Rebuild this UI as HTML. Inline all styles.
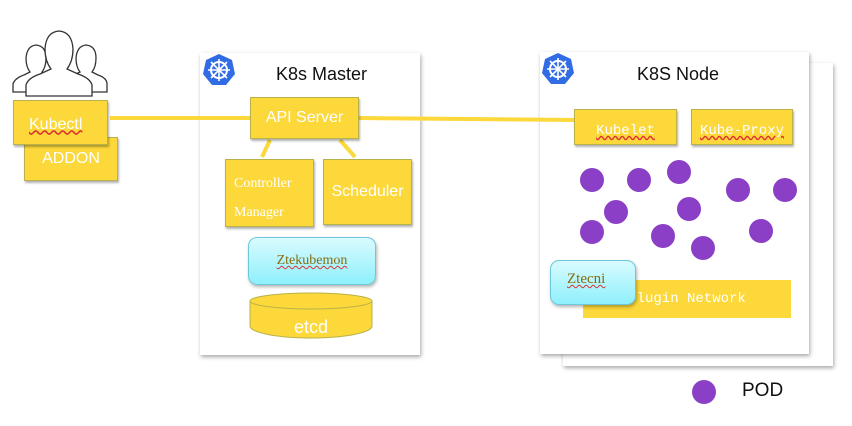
<!DOCTYPE html>
<html><head><meta charset="utf-8"><style>
body{margin:0;width:852px;height:426px;background:#fff;overflow:hidden;position:relative;font-family:"Liberation Sans",sans-serif}
.a{position:absolute;box-sizing:border-box}
.y{background:#fcd83a;border:1px solid #b9b24a;box-shadow:1px 2px 2px rgba(0,0,0,.3);color:#fff;display:flex;align-items:center;justify-content:center}
.frame{background:#fff;box-shadow:1px 2px 4px rgba(0,0,0,.35)}
.cy{background:linear-gradient(#d9fbff,#8ef0fb);border:1px solid #6cc8d8;border-radius:9px;box-shadow:1px 2px 3px rgba(0,0,0,.3);font-family:"Liberation Serif",serif;color:#8a6a10;display:flex;align-items:center;justify-content:center;font-size:14px;text-decoration:underline wavy #d33;text-decoration-thickness:1px}
.ser{font-family:"Liberation Serif",serif}
.mono{font-family:"Liberation Mono",monospace}
</style></head><body>
<div class="a frame" style="left:563px;top:63px;width:270px;height:303px"></div>
<div class="a frame" style="left:200px;top:53px;width:220px;height:302px"></div>
<div class="a frame" style="left:540px;top:52px;width:269px;height:302px"></div>
<svg class="a" style="left:0;top:0" width="852" height="426">
 <g fill="#fff" stroke="#333" stroke-width="1.3">
  <path d="M13 92 L13 84 Q15 78 24 75 L30 72 Q26 67 26 58 Q27 46 36 45 Q46 46 46 58 Q46 67 42 72 L48 75 Q57 78 57 84 L57 92 Z"/>
  <path d="M63 92 L63 84 Q65 78 74 75 L80 72 Q76 67 76 58 Q77 46 86 45 Q96 46 96 58 Q96 67 92 72 L98 75 Q107 78 107 84 L107 92 Z"/>
  <path d="M26 96 L26 85 Q28 78 40 74 L51 69 Q45 61 45 49 Q46 32 59 31 Q72 32 73 49 Q73 61 67 69 L78 74 Q90 78 92 85 L92 96 Z"/>
 </g>
 <line x1="358" y1="118" x2="576" y2="120" stroke="#fcd83a" stroke-width="4"/>
 <line x1="110" y1="118" x2="252" y2="118" stroke="#fcd83a" stroke-width="4"/>
 <line x1="270" y1="140" x2="262" y2="157" stroke="#fcd83a" stroke-width="4"/>
 <line x1="340" y1="140" x2="355" y2="157" stroke="#fcd83a" stroke-width="4"/>
 <g>
  <polygon points="219,54 232,60 235,74 226,85 212,85 203,74 206,60" fill="#326ce5"/>
  <circle cx="219" cy="70" r="8" fill="none" stroke="#fff" stroke-width="2"/>
  <g stroke="#fff" stroke-width="1.6"><line x1="219" y1="59" x2="219" y2="81"/><line x1="208" y1="70" x2="230" y2="70"/><line x1="211" y1="62" x2="227" y2="78"/><line x1="227" y1="62" x2="211" y2="78"/></g>
 </g>
 <g transform="translate(339,-1)">
  <polygon points="219,54 232,60 235,74 226,85 212,85 203,74 206,60" fill="#326ce5"/>
  <circle cx="219" cy="70" r="8" fill="none" stroke="#fff" stroke-width="2"/>
  <g stroke="#fff" stroke-width="1.6"><line x1="219" y1="59" x2="219" y2="81"/><line x1="208" y1="70" x2="230" y2="70"/><line x1="211" y1="62" x2="227" y2="78"/><line x1="227" y1="62" x2="211" y2="78"/></g>
 </g>
 <g fill="#8a3fc6">
  <circle cx="592" cy="180" r="12"/><circle cx="639" cy="180" r="12"/><circle cx="679" cy="172" r="12"/>
  <circle cx="738" cy="190" r="12"/><circle cx="785" cy="190" r="12"/><circle cx="616" cy="212" r="12"/>
  <circle cx="689" cy="209" r="12"/><circle cx="592" cy="232" r="12"/><circle cx="663" cy="236" r="12"/>
  <circle cx="761" cy="231" r="12"/><circle cx="703" cy="248" r="12"/>
  <circle cx="704" cy="392" r="12"/>
 </g>
 <ellipse cx="311" cy="326" rx="61" ry="12" fill="#fcd83a" stroke="#b9b24a"/>
 <rect x="250" y="301" width="122" height="25" fill="#fcd83a"/>
 <line x1="250" y1="301" x2="250" y2="326" stroke="#b9b24a"/><line x1="372" y1="301" x2="372" y2="326" stroke="#b9b24a"/>
 <ellipse cx="311" cy="301" rx="61" ry="8" fill="#fcd83a" stroke="#b9b24a"/>
 <text x="311" y="333" fill="#fff" font-size="18" text-anchor="middle" font-family="Liberation Sans">etcd</text>
</svg>
<div class="a" style="left:276px;top:64px;font-size:18px;color:#111">K8s Master</div>
<div class="a" style="left:637px;top:64px;font-size:18px;color:#111">K8S Node</div>
<div class="a y" style="left:24px;top:137px;width:94px;height:44px;font-size:16px;padding-top:0">ADDON</div>
<div class="a y" style="left:13px;top:100px;width:95px;height:45px;font-size:16px;justify-content:flex-start;padding-left:15px;padding-top:4px;text-decoration:underline wavy #d33">Kubectl</div>
<div class="a y" style="left:250px;top:97px;width:109px;height:42px;font-size:16px">API Server</div>
<div class="a y ser" style="left:225px;top:159px;width:89px;height:68px;font-size:14px;line-height:29px;display:block;padding:9px 0 0 8px">Controller<br>Manager</div>
<div class="a y" style="left:323px;top:159px;width:89px;height:66px;font-size:16px">Scheduler</div>
<div class="a cy" style="left:248px;top:237px;width:128px;height:48px">Ztekubemon</div>
<div class="a y mono" style="left:574px;top:109px;width:103px;height:36px;font-size:14px;padding-top:8px;text-decoration:underline wavy #d33">Kubelet</div>
<div class="a y mono" style="left:691px;top:109px;width:102px;height:36px;font-size:14px;padding-top:8px;text-decoration:underline wavy #d33">Kube-Proxy</div>
<div class="a y mono" style="left:583px;top:280px;width:208px;height:38px;font-size:14px;border:none;box-shadow:none">Plugin Network</div>
<div class="a cy" style="left:550px;top:260px;width:86px;height:45px;justify-content:flex-start;padding:0 0 6px 16px;font-size:15px">Ztecni</div>
<div class="a" style="left:742px;top:380px;font-size:19px;color:#111">POD</div>
</body></html>
